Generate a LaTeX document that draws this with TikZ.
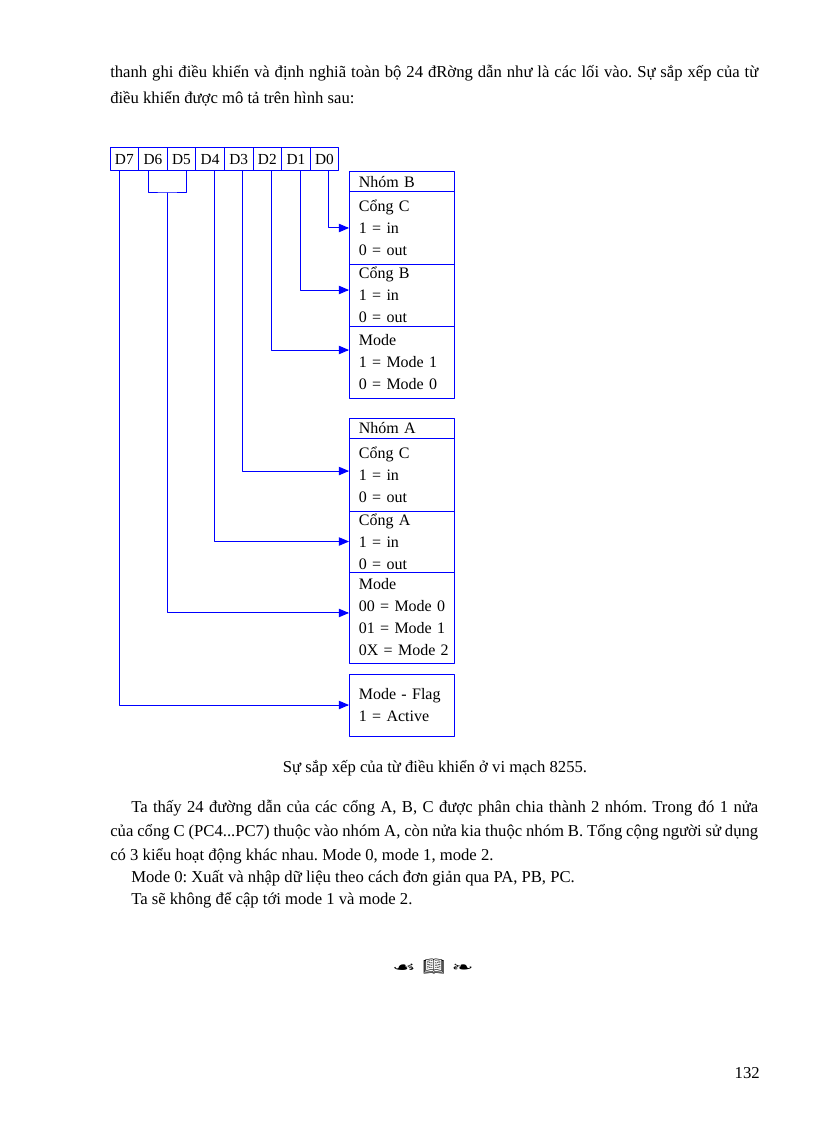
\documentclass[tikz,border=0pt]{standalone}
\usepackage{fontspec}
\setmainfont{Liberation Serif}
\newfontfamily\ornfont{DejaVu Sans}
\newfontfamily\emojifont{Noto Emoji}
\usetikzlibrary{arrows,positioning}
\frenchspacing
\tikzset{
  bit/.style={draw=blue,line width=0.75pt,outer sep=0pt,minimum width=21.45pt,
    minimum height=17.25pt,inner sep=0pt,font=\fontsize{11.5}{13}\selectfont},
  field/.style={draw=blue,line width=0.75pt,outer sep=0pt,text width=64pt,inner xsep=7.375pt,
    inner ysep=0pt,align=left,font=\fontsize{12}{16.5}\selectfont},
  wire/.style={draw=blue,line width=0.75pt},
  txt/.style={anchor=base west,inner sep=0pt,font=\fontsize{12.5}{14}\selectfont},
}
\begin{document}
\begin{tikzpicture}[line cap=round,line join=round,>=triangle 45,x={(0.75pt,0)},y={(0,-0.75pt)}]
\fill[white] (0,0) rectangle (816,1123);
\useasboundingbox (0,0) rectangle (816,1123);
% text above the figure
\node[txt] (top1) at (110,78) {\makebox[486pt][s]{thanh ghi điều khiển và định nghiã toàn bộ 24 đRờng dẫn như là các lối vào. Sự sắp xếp của từ}};
\node[txt] (top2) at (110,104) {điều khiển được mô tả trên hình sau:};
% control word
\node[bit,anchor=north west] (d7) at (110,148) {D7};
\node[bit,right=0pt of d7] (d6) {D6};
\node[bit,right=0pt of d6] (d5) {D5};
\node[bit,right=0pt of d5] (d4) {D4};
\node[bit,right=0pt of d4] (d3) {D3};
\node[bit,right=0pt of d3] (d2) {D2};
\node[bit,right=0pt of d2] (d1) {D1};
\node[bit,right=0pt of d1] (d0) {D0};
% group B
\node[field,anchor=north west,minimum height=15pt] (nhomB) at (349,172) {Nhóm B};
\node[field,below=0pt of nhomB,minimum height=54pt] (congCB) {Cổng C\\1 = in\\0 = out};
\node[field,below=0pt of congCB,minimum height=46.5pt] (congB) {Cổng B\\1 = in\\0 = out};
\node[field,below=0pt of congB,minimum height=54pt] (modeB) {Mode\\1~=~Mode~1\\0~=~Mode~0};
% group A
\node[field,anchor=north west,minimum height=15pt] (nhomA) at (349,418) {Nhóm A};
\node[field,below=0pt of nhomA,minimum height=54.75pt] (congCA) {Cổng C\\1 = in\\0 = out};
\node[field,below=0pt of congCA,minimum height=45.75pt] (congA) {Cổng A\\1 = in\\0 = out};
\node[field,below=0pt of congA,minimum height=68.25pt] (modeA) {Mode\\00~=~Mode~0\\01~=~Mode~1\\0X~=~Mode~2};
% flag
\node[field,anchor=north west,minimum height=46.5pt] (flag) at (349,674) {Mode~-~Flag\\1~=~Active};
% wires
\draw[wire,->] ([xshift=3pt]d0.south) |- (congCB.west);
\draw[wire,->] ([xshift=3.5pt]d1.south) |- ([yshift=3.75pt]congB.west);
\draw[wire,->] ([xshift=3pt]d2.south) |- ([yshift=9pt]modeB.west);
\draw[wire,->] ([xshift=3pt]d3.south) |- ([yshift=2.6pt]congCA.west);
\draw[wire,->] ([xshift=3pt]d4.south) |- (congA.west);
\coordinate (brk) at ([yshift=-16.5pt]d6.south east);
\draw[wire] ([xshift=-3.2pt]d6.south) |- (brk) -| ([xshift=3.75pt]d5.south);
\draw[wire,->] (brk) |- ([yshift=3.4pt]modeA.west);
\draw[wire,->] ([xshift=-3.75pt]d7.south) |- (flag.west);
% caption and text below
\node[txt,anchor=base] (cap) at (435,772) {Sự sắp xếp của từ điều khiển ở vi mạch 8255.};
\node[txt] (par1) at (131,812) {\makebox[470.25pt][s]{Ta thấy 24 đường dẫn của các cổng A, B, C được phân chia thành 2 nhóm. Trong đó 1 nửa}};
\node[txt] (par2) at (110,836) {\makebox[486pt][s]{của cổng C (PC4...PC7) thuộc vào nhóm A, còn nửa kia thuộc nhóm B. Tổng cộng người sử dụng}};
\node[txt] (par3) at (110,860) {có 3 kiểu hoạt động khác nhau. Mode 0, mode 1, mode 2.};
\node[txt] (par4) at (131,882) {Mode 0: Xuất và nhập dữ liệu theo cách đơn giản qua PA, PB, PC.};
\node[txt] (par5) at (131,904) {Ta sẽ không để cập tới mode 1 và mode 2.};
\node[inner sep=0pt] (orn) at (433,967) {{\ornfont\scalebox{2}[1.1]{☙}}\hspace{5pt}{\emojifont\fontsize{13}{15}\selectfont 📖}\hspace{5pt}{\ornfont\scalebox{2}[1.1]{❧}}};
\node[txt,anchor=base east] (pageno) at (760,1078) {132};
\end{tikzpicture}
\end{document}
